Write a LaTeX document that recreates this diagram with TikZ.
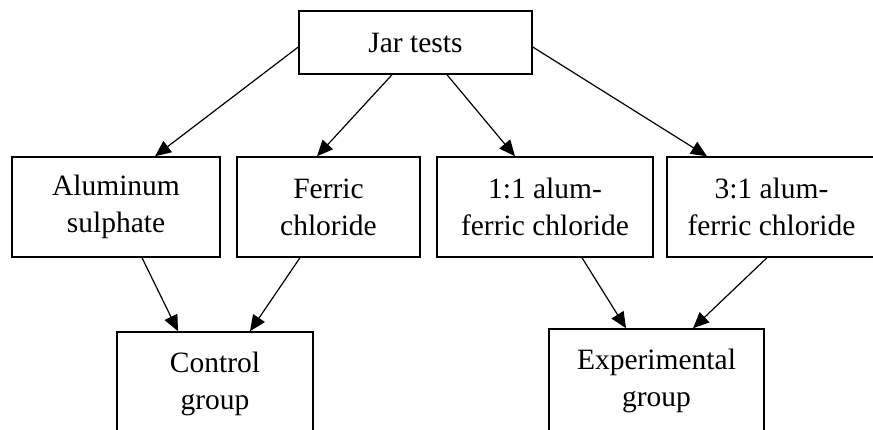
\documentclass[tikz,border=0pt]{standalone}
\usepackage{fontspec}
\setmainfont{Liberation Serif}
\usetikzlibrary{positioning}
\usetikzlibrary{arrows.meta}

\begin{document}
\begin{tikzpicture}[x=1pt, y=-1pt,
  box/.style={draw, line width=1.5pt, align=center, inner sep=0pt,
    font=\fontsize{29.5}{37}\selectfont},
  link/.style={-{Triangle[length=16pt,width=14pt]}, line width=1.2pt}]

  \useasboundingbox (0,0) rectangle (873,429);
  \clip (0,0) rectangle (873,429);

  % top
  \node[box, minimum width=233, minimum height=63] (jar) at (415.5,42.5) {Jar tests};

  % coagulants
  \foreach \x/\w/\name/\txt in {116/208/alum/{Aluminum\\sulphate},
      328.5/183/ferric/{Ferric\\chloride},
      545/216/one/{1:1 alum-\\ferric chloride},
      771.5/209/three/{3:1 alum-\\ferric chloride}} {
    \node[box, minimum width=\w, minimum height=100] (\name) at (\x,207) {\txt};
  }

  % groups
  \node[box, minimum width=196, minimum height=104] (ctrl) at (215,384) {Control\\group};
  \node[box, minimum width=215, minimum height=104] (exp) at (656.5,381) {Experimental\\group};

  \draw[link] ([yshift=-4.5]jar.west) -- ([xshift=39]alum.north);
  \draw[link] ([xshift=-23.5]jar.south) -- ([xshift=-11.5]ferric.north);
  \draw[link] ([xshift=31.5]jar.south) -- ([xshift=-30]one.north);
  \draw[link] ([yshift=-4.5]jar.east) -- ([xshift=-64.5]three.north);

  \draw[link] ([xshift=26]alum.south) -- ([xshift=-37]ctrl.north);
  \draw[link] ([xshift=-28.5]ferric.south) -- ([xshift=35]ctrl.north);
  \draw[link] ([xshift=37]one.south) -- ([xshift=-30.5]exp.north);
  \draw[link] ([xshift=-4.5]three.south) -- ([xshift=36.5]exp.north);

\end{tikzpicture}
\end{document}
